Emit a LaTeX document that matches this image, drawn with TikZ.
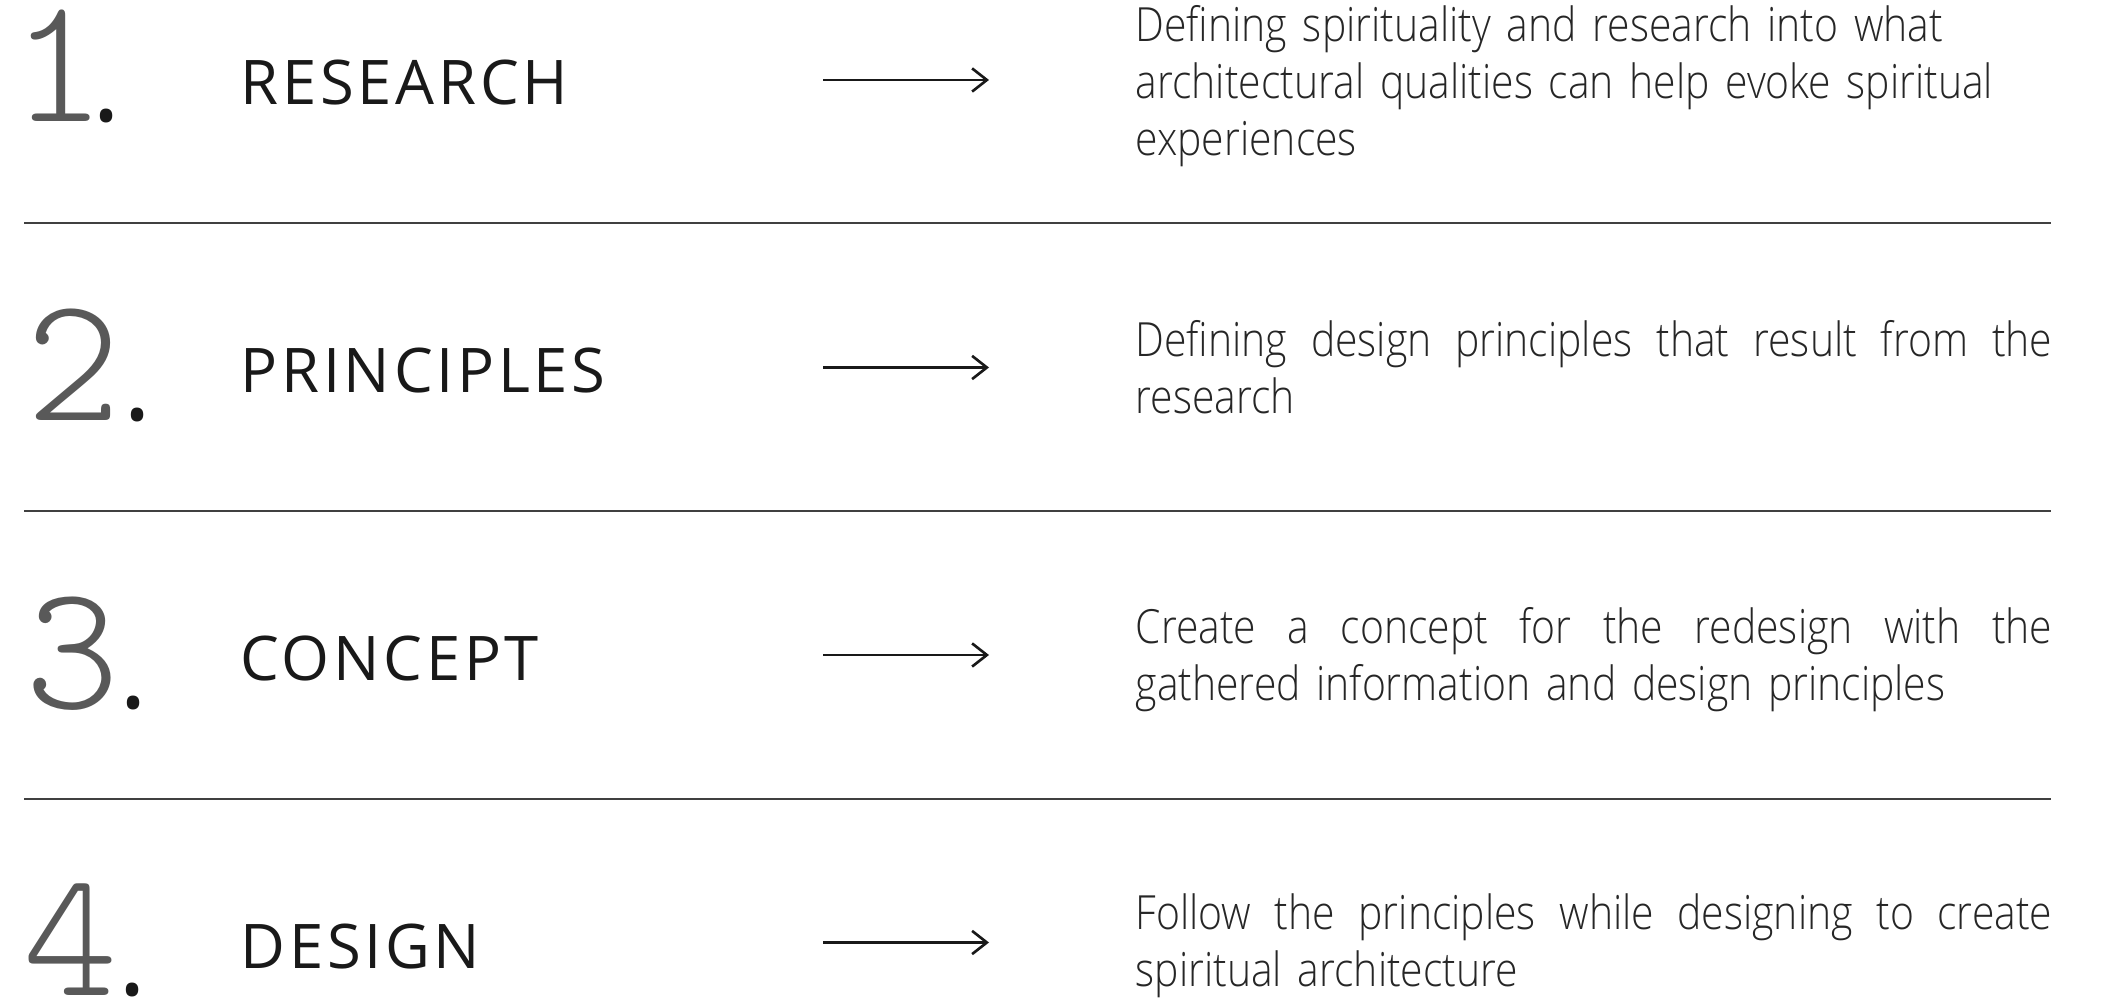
\documentclass[tikz,border=0pt]{standalone}
\usepackage{fontspec}
\usetikzlibrary{arrows.meta}

\IfFontExistsTF{lmmonolt10-regular.otf}
  {\newfontfamily\numfont{lmmonolt10-regular.otf}}
  {\newfontfamily\numfont{Latin Modern Mono}}
\newfontfamily\headfont{Open Sans}[LetterSpace=6]
\newfontfamily\dotfont{Open Sans}
\IfFontExistsTF{Open Sans Light}
  {\newfontfamily\descfont{Open Sans Light}[FakeStretch=0.867]}
  {\IfFontExistsTF{Fira Sans Light}
    {\newfontfamily\descfont{Fira Sans Light}[FakeStretch=0.867]}
    {\newfontfamily\descfont{Open Sans}[FakeStretch=0.867]}}
% justified first line of a description
\newcommand\fullline[1]{\makebox[9.16cm][s]{\spaceskip=\fontdimen2\font plus 1fil\relax #1}}

\begin{document}
\begin{tikzpicture}[x=0.01cm,y=-0.01cm,
	num/.style={inner sep=0, anchor=base west, font=\numfont\fontsize{51}{51}\selectfont, text=black!65},
	head/.style={inner sep=0, anchor=base west, font=\headfont\fontsize{17.5}{21}\selectfont, text=black!90},
	desc/.style={inner sep=0, anchor=base west, text width=9.16cm, align=left, font=\descfont\fontsize{13.4}{16.2}\selectfont, text=black!85},
	sep/.style={line width=0.6pt, black!75},
	link/.style={line width=0.75pt, black!90, -{Straight Barb[length=4.2pt,width=6.6pt]}}]

	\useasboundingbox (0,0) rectangle (2109,1001);

	%steps
	\foreach \i/\title/\nx/\dk/\nb in {1/RESEARCH/11/-3.8/122, 2/PRINCIPLES/26/0.7/421, 3/CONCEPT/25/-0.1/709, 4/DESIGN/23/0.1/995} {
		\pgfmathsetmacro\hb{105+287.7*(\i-1)}
		\pgfmathsetmacro\ab{80+287.5*(\i-1)}
		\node[num] (num\i) at (\nx,\nb) {\i\kern\dk pt{\dotfont\fontsize{30}{30}\selectfont\color{black!90}.}};
		\node[head] (head\i) at (240,\hb) {\title};
		\coordinate (as\i) at (823,\ab);
		\coordinate (ae\i) at (989,\ab);
		\draw[link] (as\i) -- (ae\i);
	}
	%separators
	\foreach \y in {223,511,799} {
		\draw[sep] (24,\y) -- (2051,\y);
	}
	%descriptions
	\node[desc] (desc1) at (1135,42) {Defining spirituality and research into what\\architectural qualities can help evoke spiritual\\experiences};
	\node[desc] (desc2) at (1135,357) {\fullline{Defining design principles that result from the}\\research};
	\node[desc] (desc3) at (1135,644) {\fullline{Create a concept for the redesign with the}\\gathered information and design principles};
	\node[desc] (desc4) at (1135,930) {\fullline{Follow the principles while designing to create}\\spiritual architecture};
\end{tikzpicture}
\end{document}
